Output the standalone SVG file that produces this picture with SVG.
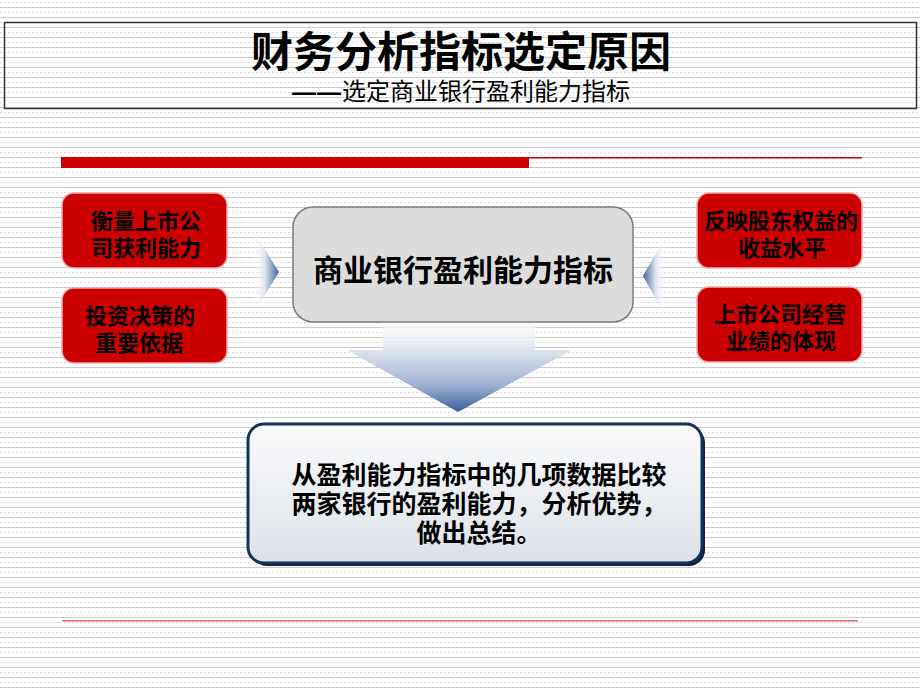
<svg xmlns="http://www.w3.org/2000/svg" width="920" height="690" viewBox="0 0 920 690">
  <defs>
    <pattern id="bg" x="0" y="0" width="8" height="10" patternUnits="userSpaceOnUse">
      <rect width="8" height="10" fill="#ffffff"/>
      <rect x="0" y="2" width="2" height="1" fill="#f0c6ee"/>
      <rect x="4" y="2" width="2" height="1" fill="#d6ecd8"/>
      <rect x="0" y="7" width="8" height="1" fill="#c9ccc9"/>
    </pattern>
    <linearGradient id="gLeft" x1="0" y1="0" x2="1" y2="0">
      <stop offset="0" stop-color="#ffffff" stop-opacity="0"/>
      <stop offset="0.45" stop-color="#dfe5f0"/>
      <stop offset="1" stop-color="#3f659f"/>
    </linearGradient>
    <linearGradient id="gRight" x1="1" y1="0" x2="0" y2="0">
      <stop offset="0" stop-color="#ffffff" stop-opacity="0"/>
      <stop offset="0.45" stop-color="#dfe5f0"/>
      <stop offset="1" stop-color="#3f659f"/>
    </linearGradient>
    <linearGradient id="gDown" x1="0" y1="0" x2="0" y2="1">
      <stop offset="0" stop-color="#ffffff" stop-opacity="0.6"/>
      <stop offset="0.35" stop-color="#d8dfec"/>
      <stop offset="0.7" stop-color="#9fb2d2"/>
      <stop offset="1" stop-color="#3a609c"/>
    </linearGradient>
    <linearGradient id="gBottom" x1="0" y1="0" x2="0" y2="1">
      <stop offset="0" stop-color="#fafbfc"/>
      <stop offset="1" stop-color="#dde1e8"/>
    </linearGradient>
    <style>
      .cjk { font-family: "Noto Sans CJK SC", "Noto Sans CJK TC", sans-serif; fill: #000; text-anchor: middle; }
      .red { fill: #cc0000; stroke: #f2a8a8; stroke-width: 1.5; }
      .rt { font-size: 22px; font-weight: 700; }
    </style>
  </defs>

  <rect width="920" height="690" fill="url(#bg)"/>

  <g id="title">
    <rect x="4.5" y="22.5" width="912" height="86" fill="none" stroke="#333" stroke-width="1.5"/>
    <text class="cjk" x="461" y="67" font-size="42" font-weight="700">财务分析指标选定原因</text>
    <text class="cjk" x="461" y="100" font-size="24"><tspan font-family="'Liberation Sans', sans-serif" font-weight="700" letter-spacing="1">——</tspan>选定商业银行盈利能力指标</text>
  </g>

  <g id="rule-top">
    <rect x="61" y="157" width="468" height="11" fill="#cc0000"/>
    <rect x="528" y="157" width="334" height="1.5" fill="#cc0000"/>
  </g>

  <g id="rule-bottom">
    <rect x="62" y="620" width="796" height="1.6" fill="#e0707c"/>
  </g>

  <g id="node-l1">
    <rect class="red" x="62" y="193" width="165" height="75" rx="12"/>
    <text class="cjk rt" x="146" y="229">衡量上市公</text>
    <text class="cjk rt" x="146" y="256">司获利能力</text>
  </g>
  <g id="node-l2">
    <rect class="red" x="62" y="288" width="165" height="75" rx="12"/>
    <text class="cjk rt" x="140" y="324">投资决策的</text>
    <text class="cjk rt" x="139" y="351">重要依据</text>
  </g>
  <g id="node-r1">
    <rect class="red" x="697" y="193" width="165" height="75" rx="12"/>
    <text class="cjk rt" x="781" y="229">反映股东权益的</text>
    <text class="cjk rt" x="782" y="256">收益水平</text>
  </g>
  <g id="node-r2">
    <rect class="red" x="697" y="287" width="165" height="75" rx="12"/>
    <text class="cjk rt" x="780" y="322">上市公司经营</text>
    <text class="cjk rt" x="781" y="349">业绩的体现</text>
  </g>

  <g id="connectors">
    <polygon points="253,230 279,272 253,314" fill="url(#gLeft)"/>
    <polygon points="666,235 643,276 666,317" fill="url(#gRight)"/>
    <polygon points="383,322 535,322 535,350 572,350 458,412 347,350 383,350" fill="url(#gDown)"/>
  </g>

  <g id="node-center">
    <rect x="293" y="207" width="340" height="115" rx="20" fill="#dcdcdc" stroke="#7a7a7a" stroke-width="1.5"/>
    <text class="cjk" x="463" y="281" font-size="30" font-weight="700">商业银行盈利能力指标</text>
  </g>

  <g id="node-bottom">
    <rect x="251" y="427" width="454" height="139" rx="16" fill="#0c2244"/>
    <rect x="248" y="424" width="454" height="139" rx="16" fill="url(#gBottom)" stroke="#14315e" stroke-width="3"/>
    <text class="cjk" x="479" y="484" font-size="25" font-weight="700">从盈利能力指标中的几项数据比较</text>
    <text class="cjk" x="479" y="513" font-size="25" font-weight="700">两家银行的盈利能力，分析优势，</text>
    <text class="cjk" x="479" y="542" font-size="25" font-weight="700">做出总结。</text>
  </g>
</svg>
